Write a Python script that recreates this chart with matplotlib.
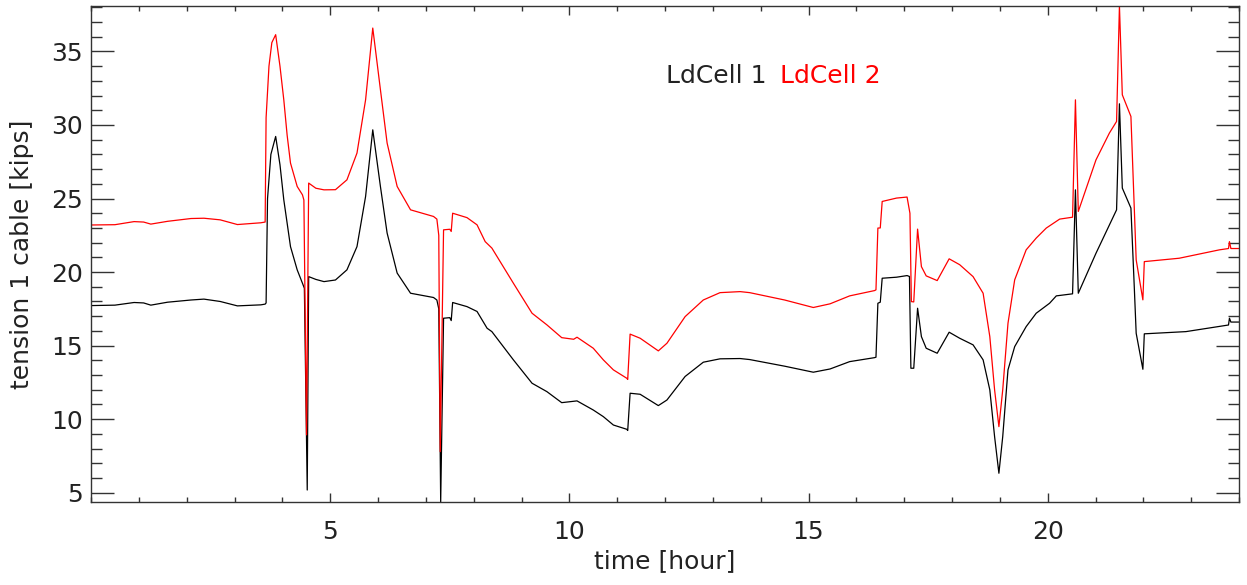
import matplotlib.pyplot as plt
from matplotlib.ticker import MultipleLocator

# LdCell 1 (black)
hours_1 = [0, 0.5, 0.9, 1.1, 1.25, 1.6, 2.09, 2.36, 2.7, 3.06, 3.55, 3.64, 3.66, 3.69, 3.76,
           3.86, 3.95, 4.03, 4.17, 4.31, 4.42, 4.46, 4.52, 4.55, 4.7, 4.87, 5.11, 5.35, 5.56,
           5.74, 5.89, 6.05, 6.19, 6.4, 6.68, 7.16, 7.23, 7.27, 7.31, 7.37, 7.5, 7.53, 7.56,
           7.86, 8.07, 8.28, 8.38, 8.83, 9.22, 9.53, 9.84, 10.16, 10.5, 10.71, 10.92, 11.2,
           11.22, 11.27, 11.48, 11.86, 12.04, 12.42, 12.8, 13.15, 13.57, 13.77, 14.5, 15.1,
           15.45, 15.86, 16.38, 16.41, 16.45, 16.5, 16.54, 16.84, 17.06, 17.11, 17.14, 17.2,
           17.24, 17.28, 17.36, 17.46, 17.69, 17.94, 18.16, 18.44, 18.65, 18.79, 18.89, 18.98,
           19.06, 19.17, 19.31, 19.55, 19.76, 20.04, 20.18, 20.52, 20.58, 20.64, 21.01, 21.44,
           21.5, 21.56, 21.74, 21.81, 21.85, 21.99, 22.02, 22.89, 23.78, 23.8, 23.83, 24.0]
ldcell_1 = [17.72, 17.75, 17.93, 17.9, 17.75, 17.95, 18.1, 18.16, 18.0, 17.7, 17.77, 17.82, 17.9,
            25.0, 28.0, 29.22, 27.3, 24.91, 21.73, 20.15, 19.24, 18.9, 5.18, 19.69, 19.5, 19.35,
            19.46, 20.15, 21.73, 25.14, 29.67, 25.82, 22.65, 19.93, 18.56, 18.27, 18.1, 17.5,
            4.37, 16.86, 16.9, 16.7, 17.93, 17.65, 17.32, 16.18, 15.95, 14.03, 12.44, 11.87,
            11.12, 11.24, 10.62, 10.17, 9.6, 9.31, 9.23, 11.76, 11.69, 10.92, 11.3, 12.9, 13.87,
            14.1, 14.12, 14.05, 13.6, 13.19, 13.41, 13.91, 14.18, 14.21, 17.88, 17.95, 19.58,
            19.65, 19.76, 19.7, 13.46, 13.46, 15.5, 17.54, 15.61, 14.82, 14.48, 15.91, 15.5,
            15.05, 14.03, 11.99, 8.81, 6.32, 8.81, 13.35, 14.93, 16.29, 17.2, 17.88, 18.38,
            18.52, 25.59, 18.56, 21.28, 24.23, 31.44, 25.71, 24.35, 19.0, 15.84, 13.39, 15.8,
            15.95, 16.4, 16.86, 16.6, 16.6]

# LdCell 2 (red)
hours_2 = [0, 0.5, 0.9, 1.1, 1.25, 1.6, 2.09, 2.36, 2.7, 3.06, 3.55, 3.64, 3.66, 3.72, 3.78,
           3.86, 3.95, 4.03, 4.1, 4.17, 4.31, 4.42, 4.45, 4.505, 4.55, 4.7, 4.87, 5.11, 5.35,
           5.56, 5.74, 5.89, 6.05, 6.19, 6.4, 6.68, 7.16, 7.23, 7.27, 7.30, 7.37, 7.5, 7.53,
           7.56, 7.86, 8.07, 8.24, 8.38, 8.83, 9.22, 9.53, 9.84, 10.09, 10.16, 10.5, 10.71,
           10.92, 11.2, 11.22, 11.27, 11.48, 11.86, 12.04, 12.42, 12.8, 13.15, 13.57, 13.77,
           14.5, 15.1, 15.45, 15.86, 16.38, 16.41, 16.45, 16.5, 16.54, 16.84, 17.06, 17.12,
           17.15, 17.2, 17.28, 17.36, 17.46, 17.69, 17.94, 18.16, 18.44, 18.65, 18.79, 18.89,
           18.98, 19.06, 19.17, 19.31, 19.55, 19.76, 19.97, 20.25, 20.52, 20.58, 20.64, 21.01,
           21.29, 21.44, 21.5, 21.56, 21.74, 21.85, 21.99, 22.02, 22.75, 23.59, 23.78, 23.8,
           23.83, 24.0]
ldcell_2 = [23.2, 23.22, 23.43, 23.4, 23.26, 23.45, 23.64, 23.66, 23.55, 23.23, 23.35, 23.4,
            30.5, 34.0, 35.6, 36.14, 34.0, 31.71, 29.3, 27.41, 25.82, 25.25, 24.9, 8.93, 26.05,
            25.7, 25.59, 25.6, 26.27, 28.09, 31.71, 36.59, 32.4, 28.77, 25.82, 24.23, 23.78,
            23.6, 22.5, 7.79, 22.87, 22.91, 22.76, 24.0, 23.7, 23.21, 22.07, 21.63, 19.24, 17.2,
            16.41, 15.54, 15.43, 15.57, 14.82, 14.03, 13.35, 12.78, 12.7, 15.78, 15.5, 14.64,
            15.16, 16.97, 18.1, 18.6, 18.67, 18.6, 18.1, 17.59, 17.84, 18.38, 18.74, 18.79,
            22.99, 23.0, 24.8, 25.03, 25.1, 24.0, 17.99, 17.97, 22.92, 20.37, 19.74, 19.42,
            20.9, 20.5, 19.69, 18.56, 15.61, 11.99, 9.49, 11.99, 16.52, 19.47, 21.51, 22.31,
            22.99, 23.6, 23.73, 31.71, 24.12, 27.63, 29.45, 30.24, 38.1, 32.05, 30.58, 20.83,
            18.11, 20.71, 20.94, 21.51, 21.6, 22.07, 21.6, 21.6]

x_ticks = [5, 10, 15, 20]

plt.rcParams['font.family'] = ['DejaVu Sans']
txt = '#222222'

fig = plt.figure(figsize=(12.47, 5.85), dpi=100)
ax = fig.add_axes([0.073, 0.142, 0.9206, 0.848])

ax.plot(hours_1, ldcell_1, color='black', lw=0.9)
ax.plot(hours_2, ldcell_2, color='red', lw=0.9)

ax.set_xlim(0, 24)
ax.set_ylim(4.37, 38.1)

ax.set_xticks(x_ticks)
ax.xaxis.set_minor_locator(MultipleLocator(1))
ax.yaxis.set_major_locator(MultipleLocator(5))
ax.yaxis.set_minor_locator(MultipleLocator(1))

ax.tick_params(axis='both', which='both', direction='in', top=True, right=True,
               color='#333333', labelsize=18, labelcolor=txt, width=1)
ax.tick_params(axis='x', which='major', length=6.5, pad=13)
ax.tick_params(axis='x', which='minor', length=3.6)
ax.tick_params(axis='y', which='major', length=16.6, pad=6)
ax.tick_params(axis='y', which='minor', length=8)
for s in ax.spines.values():
    s.set_color('#333333')
    s.set_linewidth(1)

ax.set_xlabel('time [hour]', fontsize=18, color=txt, labelpad=4)
ax.set_ylabel('tension 1 cable [kips]', fontsize=18, color=txt, labelpad=12)

ax.text(12.01, 33.3, 'LdCell 1', color=txt, fontsize=18, va='center')
ax.text(14.40, 33.3, 'LdCell 2', color='red', fontsize=18, va='center')

fig.savefig('out.png', dpi=100)
